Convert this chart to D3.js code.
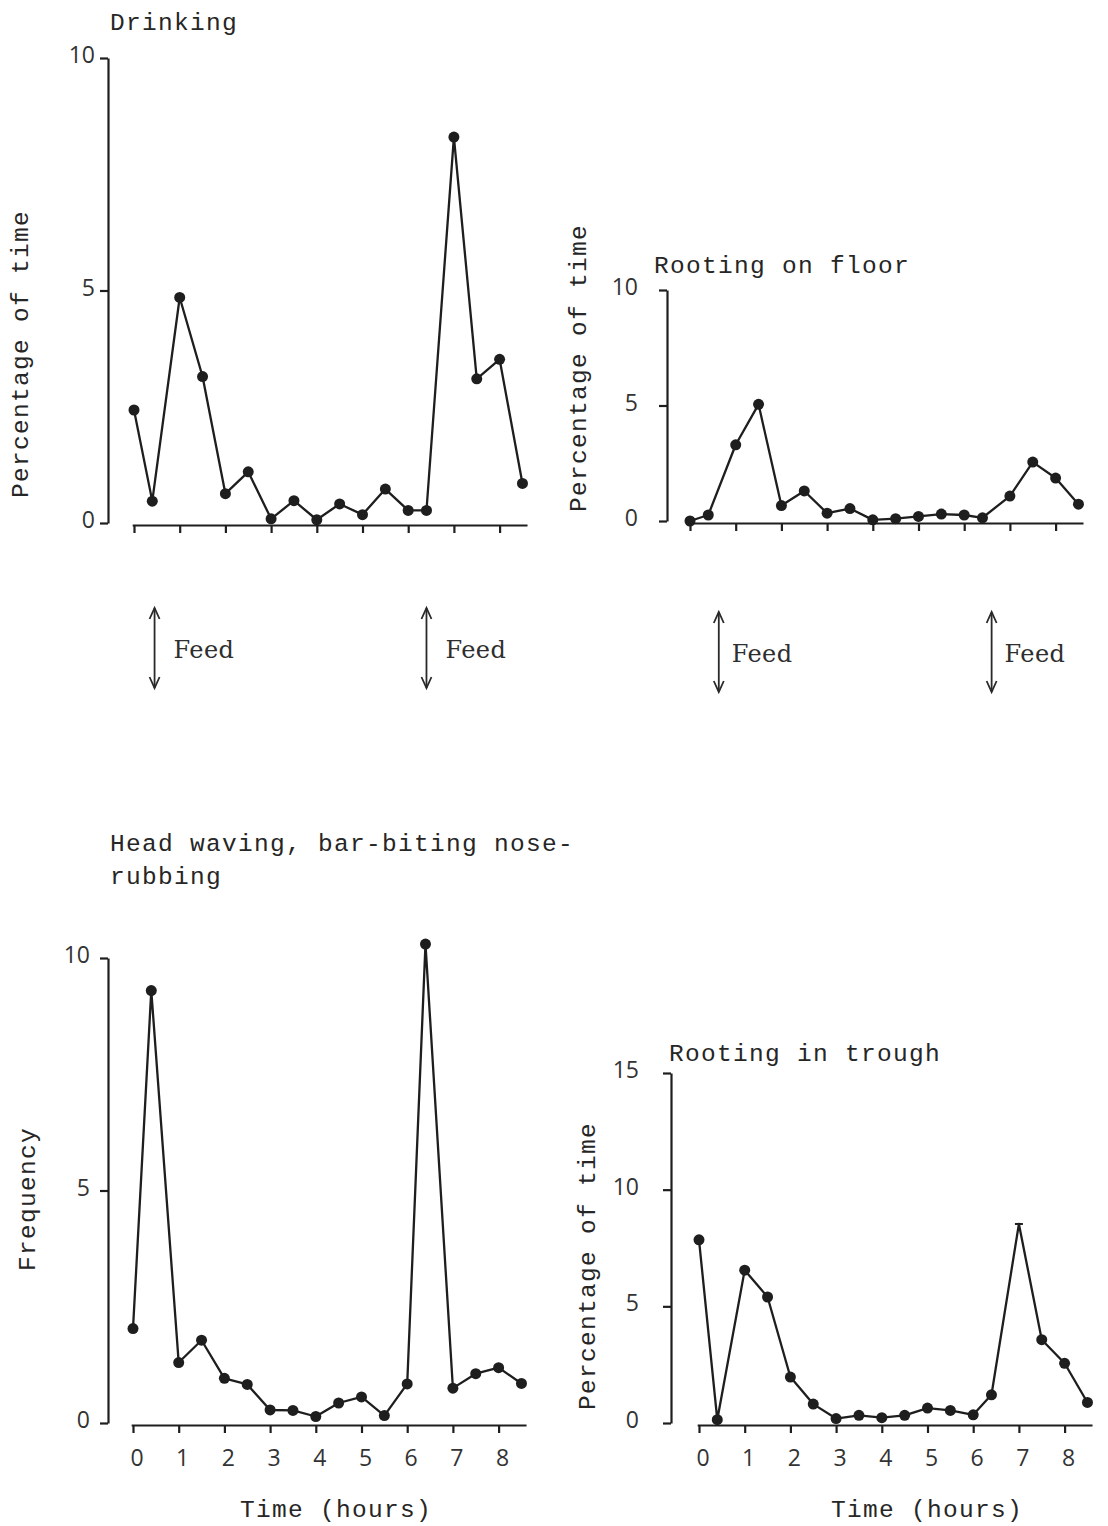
<!DOCTYPE html>
<html>
<head>
<meta charset="utf-8">
<script src="https://cdn.jsdelivr.net/npm/d3@7"></script>
<style>
  html, body { margin: 0; padding: 0; background: #ffffff; }
  svg { display: block; }
  .mono { font-family: "Liberation Mono", "DejaVu Sans Mono", monospace; fill: #262626; }
  .tick text { font-family: "Open Sans", "Liberation Sans", sans-serif; fill: #333; }
  .feed { font-family: "DejaVu Serif", "Liberation Serif", serif; fill: #2e2e2e; }
</style>
</head>
<body>
<script>
// Sampling times (hours after start of observation)
const hours = [0, 0.4, 1, 1.5, 2, 2.5, 3, 3.5, 4, 4.5, 5, 5.5, 6, 6.4, 7, 7.5, 8, 8.5];

// Percentage of time spent drinking
const drinking = [2.43, 0.47, 4.85, 3.15, 0.63, 1.1, 0.09, 0.48, 0.07, 0.41, 0.18, 0.73, 0.27, 0.27, 8.3, 3.1, 3.52, 0.85];

// Percentage of time rooting on the floor
const rootingFloor = [0, 0.26, 3.3, 5.05, 0.67, 1.3, 0.34, 0.54, 0.05, 0.1, 0.2, 0.3, 0.26, 0.14, 1.08, 2.55, 1.86, 0.73];

// Frequency of head waving, bar-biting and nose-rubbing
const headWaving = [2.03, 9.3, 1.3, 1.78, 0.96, 0.83, 0.28, 0.27, 0.14, 0.43, 0.56, 0.16, 0.84, 10.3, 0.75, 1.06, 1.19, 0.85];

// Percentage of time rooting in the trough
const rootingTrough = [7.85, 0.14, 6.55, 5.4, 1.97, 0.81, 0.19, 0.33, 0.23, 0.33, 0.64, 0.54, 0.35, 1.21, 8.53, 3.57, 2.56, 0.88];

// Axis tick values
const hourTicks = [0, 1, 2, 3, 4, 5, 6, 7, 8];
const ticksTen = [0, 5, 10];
const ticksFifteen = [0, 5, 10, 15];

// Feeding times marked beneath the upper panels (hours)
const feedDrinking = [0.45, 6.4];
const feedFloor = [0.63, 6.6];

const W = 1108, H = 1526;
const PER_HOUR = 45.7;

const svg = d3.select("body").append("svg")
  .attr("width", W).attr("height", H)
  .attr("viewBox", `0 0 ${W} ${H}`);

const INK = "#1e1e1e";

function panel(cfg) {
  const g = svg.append("g");
  const x = d3.scaleLinear()
    .domain([-0.04, 8.6])
    .range([cfg.x0 - 0.04 * PER_HOUR, cfg.x0 + 8.6 * PER_HOUR]);
  const y = d3.scaleLinear()
    .domain([0, cfg.yMax])
    .range([cfg.yBase, cfg.yTop]);

  // vertical axis, set to the left of the time axis
  const yAxis = d3.axisLeft(y)
    .tickValues(cfg.yTicks)
    .tickSize(8)
    .tickSizeOuter(0)
    .tickPadding(cfg.yPad);
  const ya = g.append("g")
    .attr("transform", `translate(${cfg.axisX},0)`)
    .call(yAxis);
  ya.select(".domain").attr("stroke", INK).attr("stroke-width", 2.2);
  ya.selectAll(".tick line").attr("stroke", INK).attr("stroke-width", 2.2);
  ya.selectAll(".tick text").attr("font-size", 23).attr("dy", "0.2em");

  // time axis
  const xAxis = d3.axisBottom(x)
    .tickValues(hourTicks)
    .tickSize(8)
    .tickSizeOuter(0)
    .tickPadding(17)
    .tickFormat(cfg.showHours ? d3.format("d") : () => "");
  const xa = g.append("g")
    .attr("transform", `translate(0,${cfg.yBase + 2})`)
    .call(xAxis);
  xa.select(".domain").attr("stroke", INK).attr("stroke-width", 2.2);
  xa.selectAll(".tick line").attr("stroke", INK).attr("stroke-width", 2.2);
  xa.selectAll(".tick text").attr("font-size", 23).attr("dx", "0.15em");

  // series line and markers
  const pts = hours.map((h, i) => [h, cfg.values[i]]);
  g.append("path")
    .datum(pts)
    .attr("fill", "none")
    .attr("stroke", INK)
    .attr("stroke-width", 2.3)
    .attr("stroke-linejoin", "round")
    .attr("d", d3.line().x(d => x(d[0])).y(d => y(d[1])));

  g.selectAll("circle.pt")
    .data(pts.filter((d, i) => !(cfg.barMarks || []).includes(i)))
    .join("circle")
    .attr("class", "pt")
    .attr("cx", d => x(d[0]))
    .attr("cy", d => y(d[1]))
    .attr("r", 5.5)
    .attr("fill", INK);

  (cfg.barMarks || []).forEach(i => {
    g.append("line")
      .attr("x1", x(hours[i]) - 4).attr("x2", x(hours[i]) + 4)
      .attr("y1", y(cfg.values[i])).attr("y2", y(cfg.values[i]))
      .attr("stroke", INK).attr("stroke-width", 2);
  });

  // title lines
  cfg.title.forEach((t, k) => {
    g.append("text")
      .attr("class", "mono")
      .attr("x", cfg.titleX)
      .attr("y", cfg.titleY + k * 33)
      .attr("font-size", 24.5)
      .attr("letter-spacing", 1.3)
      .text(t);
  });

  // vertical axis label
  g.append("text")
    .attr("class", "mono")
    .attr("transform", `translate(${cfg.labelX},${cfg.labelY}) rotate(-90)`)
    .attr("text-anchor", "middle")
    .attr("font-size", 24.5)
    .attr("letter-spacing", 1.3)
    .text(cfg.yLabel);

  if (cfg.showHours) {
    g.append("text")
      .attr("class", "mono")
      .attr("x", cfg.timeLabelX)
      .attr("y", 1517)
      .attr("text-anchor", "middle")
      .attr("font-size", 24.5)
      .attr("letter-spacing", 1.3)
      .text("Time (hours)");
  }

  // feeding arrows
  (cfg.feeds || []).forEach(f => {
    const ax = x(f);
    const top = cfg.feedTop, bot = cfg.feedTop + 80;
    g.append("line")
      .attr("x1", ax).attr("x2", ax).attr("y1", top).attr("y2", bot)
      .attr("stroke", "#2a2a2a").attr("stroke-width", 1.8);
    g.append("path")
      .attr("d", `M${ax - 5},${top + 11} L${ax},${top} L${ax + 5},${top + 11}`)
      .attr("fill", "none").attr("stroke", "#2a2a2a").attr("stroke-width", 1.8);
    g.append("path")
      .attr("d", `M${ax - 5},${bot - 11} L${ax},${bot} L${ax + 5},${bot - 11}`)
      .attr("fill", "none").attr("stroke", "#2a2a2a").attr("stroke-width", 1.8);
    g.append("text")
      .attr("class", "feed")
      .attr("x", ax + cfg.feedGap)
      .attr("y", top + 50)
      .attr("font-size", 24)
      .attr("letter-spacing", 0.4)
      .text("Feed");
  });
}

panel({
  values: drinking, yMax: 10, yTicks: ticksTen,
  axisX: 108, x0: 134, yBase: 523, yTop: 58, yPad: 5,
  title: ["Drinking"], titleX: 110, titleY: 30,
  yLabel: "Percentage of time", labelX: 28, labelY: 354,
  feeds: feedDrinking, feedTop: 608, feedGap: 19
});

panel({
  values: rootingFloor, yMax: 10, yTicks: ticksTen,
  axisX: 667, x0: 690, yBase: 521, yTop: 290, yPad: 21,
  title: ["Rooting on floor"], titleX: 654, titleY: 273,
  yLabel: "Percentage of time", labelX: 586, labelY: 368,
  feeds: feedFloor, feedTop: 612, feedGap: 13
});

panel({
  values: headWaving, yMax: 10, yTicks: ticksTen,
  axisX: 108, x0: 133, yBase: 1423, yTop: 958, yPad: 10,
  title: ["Head waving, bar-biting nose-", "rubbing"], titleX: 110, titleY: 851,
  yLabel: "Frequency", labelX: 35, labelY: 1199,
  showHours: true, timeLabelX: 336
});

panel({
  values: rootingTrough, yMax: 15, yTicks: ticksFifteen, barMarks: [14],
  axisX: 671, x0: 699, yBase: 1423, yTop: 1073, yPad: 24,
  title: ["Rooting in trough"], titleX: 669, titleY: 1061,
  yLabel: "Percentage of time", labelX: 595, labelY: 1266,
  showHours: true, timeLabelX: 927
});
</script>
</body>
</html>
